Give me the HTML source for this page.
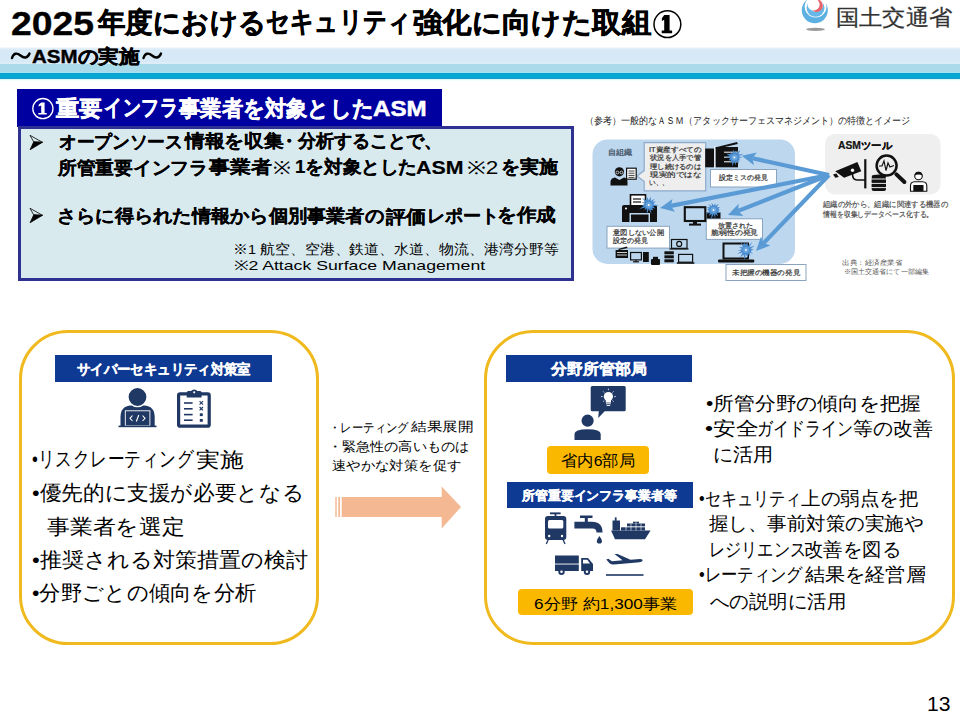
<!DOCTYPE html>
<html><head><meta charset="utf-8">
<style>
*{margin:0;padding:0;box-sizing:border-box}
html,body{width:960px;height:720px;overflow:hidden;background:#fff}
body{position:relative;font-family:"Liberation Sans",sans-serif;color:#000}
.a{position:absolute}
.t{position:absolute;white-space:nowrap;line-height:1;transform-origin:0 0}
.b{font-weight:bold}
svg{position:absolute;left:0;top:0}
</style></head><body>

<!-- bands -->
<div class="a" style="left:0;top:47px;width:960px;height:34px;background:linear-gradient(to bottom,#fff 0px,#e6f1f9 1px,#d7e9f6 3px,#d7e9f6 14px,#dcedf8 15px,#dcedf8 16.5px,#a9dbe9 17px,#abdbea 24.5px,#a0e5f5 25px,#a0e5f5 25.8px,#1b93bb 26px,#06a7d4 27px,#06a7d4 31px,#1b93bb 32px,#dff6fb 32.5px,#fff 34px)"></div>
<!-- top section -->
<div class="a" style="left:17px;top:89px;width:425px;height:38px;background:#0000a0"></div>
<div class="a" style="left:18px;top:126px;width:556px;height:155px;border:3px solid #2e3192;background:#d9eaef"></div>

<!-- bottom boxes -->
<div class="a" style="left:19px;top:330px;width:300px;height:315px;border:3px solid #f0b91e;border-radius:49px"></div>
<div class="a" style="left:55px;top:355px;width:217px;height:27px;background:#0f3a94"></div>
<div class="a" style="left:484px;top:330px;width:471px;height:315px;border:3px solid #f0b91e;border-radius:49px"></div>
<div class="a" style="left:506px;top:355px;width:186px;height:27px;background:#0f3a94"></div>
<div class="a" style="left:547px;top:446px;width:102px;height:28px;background:#fbb800;border-radius:4px"></div>
<div class="a" style="left:507px;top:482px;width:186px;height:26px;background:#0f3a94"></div>
<div class="a" style="left:518px;top:589px;width:175px;height:26px;background:#fbb800;border-radius:4px"></div>

<svg width="960" height="720" viewBox="0 0 960 720">
<!-- logo -->
<ellipse cx="815.5" cy="29.3" rx="9.5" ry="1.6" fill="#9a9a9a"/>
<circle cx="814.8" cy="10.2" r="13" fill="#5cb0e2"/>
<circle cx="815.6" cy="6.6" r="10.9" fill="#fff"/>
<circle cx="815.5" cy="7.8" r="9" fill="#66b8e8"/>
<circle cx="816" cy="4.6" r="7.2" fill="#fff"/>
<circle cx="816.6" cy="5.6" r="6.3" fill="#e8646c"/>
<circle cx="813.6" cy="4.6" r="6" fill="#fff"/>
<path d="M12,58 C13.5,53 17,52.5 20.5,55.5 C24,58.5 27.5,58.5 29.5,53.5" fill="none" stroke="#000" stroke-width="2.4" stroke-linecap="round"/>
<path d="M143.5,58 C145,53 148.5,52.5 152,55.5 C155.5,58.5 159,58.5 161,53.5" fill="none" stroke="#000" stroke-width="2.4" stroke-linecap="round"/>
<!-- circled 1 -->
<circle cx="667.4" cy="24.15" r="13.4" fill="none" stroke="#000" stroke-width="1.5"/>
<path d="M664.2,15 H669.6 V30.4 H672.1 V33.3 H661.7 V30.4 H664.2 V19.8 L661.9,21 V18.2 Z" fill="#000"/>

<circle cx="42.9" cy="108.6" r="10.1" fill="none" stroke="#fff" stroke-width="1.3"/>
<path d="M41.2,102.6 H44.6 V112.9 H46.7 V114.6 H38.3 V112.9 H41.2 V105.6 L38.6,106.6 V104.8 Z" fill="#fff"/>
<!-- bullet arrows -->
<g stroke="#000" stroke-width="0.8" stroke-linejoin="miter">
<path d="M30,135.3 L42.5,142.3 L33.7,141.9 Z" fill="none"/>
<path d="M33.7,141.9 L42.5,142.3 L30.1,149.7 Z" fill="#000"/>
<path d="M30,208.3 L42.5,215.3 L33.7,214.9 Z" fill="none"/>
<path d="M33.7,214.9 L42.5,215.3 L30.1,222.7 Z" fill="#000"/>
</g>

<!-- diagram -->
<rect x="592.5" y="139.4" width="202.5" height="124.5" rx="15" fill="#bdd7ee"/>
<rect x="825" y="134" width="115.5" height="60.5" rx="10" fill="#efefef"/>
<path d="M644.2,142.7 H705.7 V190.8 H644.2 V181.6 L637,176 L644.2,170.6 Z" fill="#eeeeee" stroke="#8eaacb" stroke-width="1.2"/>
<g fill="#fff" stroke="#8aa4c0" stroke-width="1">
<rect x="710.5" y="169.5" width="66" height="17.5"/>
<rect x="607" y="226.3" width="62.5" height="21.8"/>
<rect x="706.3" y="218.8" width="56.2" height="20.6"/>
<rect x="726" y="264.5" width="80" height="16"/>
</g>

<!-- copier -->
<g fill="#111">
<rect x="705.2" y="148.5" width="9" height="18.8"/>
<rect x="715.5" y="147" width="22.5" height="20.3"/>
<path d="M715,147.5 L737,142 L737.8,144 L716,149 Z"/>
</g>
<g stroke="#fff" stroke-width="1">
<line x1="724" y1="152.2" x2="738" y2="152.2"/><line x1="724" y1="157.2" x2="738" y2="157.2"/><line x1="724" y1="161.8" x2="738" y2="161.8"/>
<line x1="714.8" y1="146" x2="714.8" y2="168"/>
</g>
<!-- printer -->
<rect x="630.5" y="194.8" width="15" height="13" fill="#fff" stroke="#111" stroke-width="1.6"/>
<g stroke="#111" stroke-width="1.2"><line x1="633" y1="199" x2="641" y2="199"/><line x1="633" y1="202" x2="641" y2="202"/></g>
<path d="M624,205 H655 A2,2 0 0 1 657,207 V222 H622 V207 A2,2 0 0 1 624,205 Z" fill="#111"/>
<rect x="629.5" y="213" width="20.5" height="9" fill="#bdd7ee"/>
<rect x="631" y="214.5" width="17.5" height="7.5" fill="#111"/>
<circle cx="626" cy="208.5" r="1" fill="#fff"/>
<!-- monitor -->
<rect x="684.8" y="207.2" width="20.5" height="13.8" fill="none" stroke="#111" stroke-width="2.1"/>
<rect x="693" y="221" width="4" height="3" fill="#111"/><rect x="689" y="223.6" width="12" height="2" fill="#111"/>
<!-- laptop -->
<rect x="723.5" y="243.5" width="24.5" height="15" fill="none" stroke="#111" stroke-width="2"/>
<rect x="718" y="259.6" width="36.3" height="2.9" rx="1.2" fill="#111"/>
<!-- small devices -->
<g fill="#111">
<rect x="615.6" y="250" width="12.4" height="8" />
<path d="M618,249 L627,246.5 L627.5,248 L619,250 Z"/>
<rect x="643" y="252" width="5.8" height="10"/>
<rect x="651" y="259" width="9" height="6" rx="1"/>
<rect x="653" y="256.8" width="5" height="3"/>
<rect x="664.4" y="251.3" width="9.4" height="3"/><rect x="664.4" y="255.3" width="9.4" height="3"/><rect x="664.4" y="259.3" width="9.4" height="3"/>
<rect x="669.5" y="248.3" width="19" height="1.3"/>
<rect x="676.9" y="262.3" width="17.5" height="1.5"/>
</g>
<g stroke="#fff" stroke-width="0.8"><line x1="617" y1="252.5" x2="627" y2="252.5"/><line x1="617" y1="255" x2="627" y2="255"/></g>
<g fill="none" stroke="#111" stroke-width="1.2">
<rect x="630.6" y="252.5" width="10.8" height="7.4"/>
<line x1="636" y1="260" x2="636" y2="262"/><line x1="633" y1="261.8" x2="639" y2="261.8"/>
<rect x="671.5" y="239.5" width="15.5" height="8.8"/>
<circle cx="679.2" cy="243.9" r="2.5"/>
<rect x="678.6" y="254.4" width="14" height="7.8"/>
</g>
<!-- person + clipboard -->
<g fill="#111">
<circle cx="619.4" cy="171.8" r="4.6"/>
<path d="M610.5,185.6 V181.5 Q611,178 615,177.5 L619.4,180 L624,177.5 Q627.5,178 627.5,181.5 V185.6 Z"/>
</g>
<g fill="none" stroke="#fff" stroke-width="0.7"><circle cx="617.4" cy="172.5" r="1.4"/><circle cx="621.4" cy="172.5" r="1.4"/></g>
<rect x="626.6" y="168.2" width="9.6" height="11" fill="#fff" stroke="#111" stroke-width="1.2"/>
<g stroke="#111" stroke-width="0.8"><line x1="628.5" y1="171" x2="634.5" y2="171"/><line x1="628.5" y1="173.2" x2="634.5" y2="173.2"/><line x1="628.5" y1="175.4" x2="634.5" y2="175.4"/><line x1="628.5" y1="177.4" x2="634.5" y2="177.4"/></g>
<rect x="706.5" y="212.5" width="14" height="6" fill="#111"/>
<path d="M742.6,157.1 L738.9,158.3 L740.3,160.4 L738.4,160.1 L739.1,162.8 L736.0,161.6 L735.8,165.3 L734.3,161.5 L732.1,166.4 L732.3,161.7 L730.1,162.4 L730.7,160.1 L728.7,160.4 L730.0,158.1 L725.0,157.1 L729.6,156.1 L726.1,153.6 L730.5,154.3 L730.5,151.9 L732.4,153.8 L733.2,149.6 L734.5,153.1 L736.1,149.9 L736.3,153.2 L740.4,150.1 L738.4,154.4 L743.4,153.7 L738.4,156.6 Z" fill="#4a8cd0"/>
<circle cx="734.4" cy="157.4" r="3" fill="#6aa6de"/>
<circle cx="734.4" cy="157.4" r="0.9" fill="#fff"/>
<path d="M659.0,205.6 L653.1,206.3 L655.4,208.5 L652.2,208.0 L653.3,210.3 L650.7,209.7 L651.5,214.2 L648.8,209.1 L646.9,214.3 L646.8,208.5 L644.3,210.3 L645.3,207.6 L639.2,208.9 L643.8,206.1 L641.7,205.2 L644.9,204.1 L641.2,201.8 L645.6,202.4 L642.0,197.8 L646.4,200.6 L647.5,197.0 L648.7,200.5 L650.9,196.4 L650.8,200.9 L654.6,198.7 L652.4,202.0 L655.7,201.3 L653.2,204.3 Z" fill="#4a8cd0"/>
<circle cx="648.75" cy="205" r="3" fill="#6aa6de"/>
<circle cx="648.75" cy="205" r="0.9" fill="#fff"/>
<path d="M719.9,210.0 L718.0,211.0 L721.4,213.1 L716.6,212.5 L718.3,216.3 L715.3,213.9 L715.2,218.7 L713.8,214.0 L711.1,219.3 L711.7,214.1 L708.8,215.8 L710.2,212.7 L706.0,213.8 L709.3,211.1 L707.0,209.7 L708.9,208.9 L707.0,207.1 L710.4,207.2 L708.3,204.1 L711.9,206.3 L711.6,202.7 L713.7,205.6 L715.4,203.3 L715.4,205.8 L718.8,204.1 L716.6,207.3 L719.8,207.0 L718.3,209.1 Z" fill="#4a8cd0"/>
<circle cx="713.5" cy="210" r="3" fill="#6aa6de"/>
<circle cx="713.5" cy="210" r="0.9" fill="#fff"/>
<path d="M753.7,249.6 L750.5,251.3 L753.0,253.8 L749.5,252.4 L750.5,256.3 L748.0,253.9 L747.9,258.0 L745.7,254.1 L744.5,260.0 L743.5,254.4 L739.7,258.0 L742.6,252.4 L737.0,253.9 L741.6,250.9 L738.0,250.3 L742.1,249.3 L739.0,246.5 L743.0,247.4 L740.7,242.4 L744.2,245.4 L744.6,241.3 L745.6,245.2 L747.3,242.3 L748.1,246.0 L752.2,242.0 L749.4,247.4 L754.7,245.4 L750.7,248.9 Z" fill="#4a8cd0"/>
<circle cx="746" cy="250" r="3" fill="#6aa6de"/>
<circle cx="746" cy="250" r="0.9" fill="#fff"/>
<line x1="829" y1="175" x2="752.4" y2="158.2" stroke="#5b9bd5" stroke-width="4.2"/><path d="M741.7,155.8 L756.8,152.5 L752.4,158.2 L754.0,165.2 Z" fill="#5b9bd5"/>
<line x1="829" y1="175" x2="670.8" y2="205.9" stroke="#5b9bd5" stroke-width="4.2"/><path d="M660,208 L672.5,198.9 L670.8,205.9 L675.0,211.7 Z" fill="#5b9bd5"/>
<line x1="829" y1="175" x2="738.2" y2="210.9" stroke="#5b9bd5" stroke-width="4.2"/><path d="M728,215 L738.6,203.8 L738.2,210.9 L743.4,215.9 Z" fill="#5b9bd5"/>
<line x1="829" y1="175" x2="763.6" y2="243.1" stroke="#5b9bd5" stroke-width="4.2"/><path d="M756,251 L761.0,236.4 L763.6,243.1 L770.4,245.4 Z" fill="#5b9bd5"/>
<!-- ASM tool icons -->
<path d="M835.2,171.2 L857.4,162 L861.3,171.2 L844.1,177.8 Z" fill="#111"/>
<circle cx="852.5" cy="170.3" r="1.7" fill="#fff"/>
<path d="M833,174.6 L836.4,173.4 L838.8,177 L835.3,177.8 Z" fill="#111"/>
<path d="M852.5,174 Q852.5,180 857,180 H865" fill="none" stroke="#111" stroke-width="1.6"/>
<rect x="864.2" y="159.2" width="2.2" height="29.2" fill="#111"/>
<circle cx="886.6" cy="165.6" r="10" fill="none" stroke="#111" stroke-width="2.5"/>
<line x1="896.4" y1="174.4" x2="904.4" y2="182" stroke="#111" stroke-width="4" stroke-linecap="round"/>
<polyline points="879,166 882,166 884,161 886,170.5 888,163 890,167 894,165.5" fill="none" stroke="#111" stroke-width="1.2"/>
<g fill="#111"><ellipse cx="878.8" cy="176.3" rx="7.2" ry="1.8"/><rect x="871.6" y="176.3" width="14.4" height="14.7" rx="2"/></g>
<g stroke="#fff" stroke-width="0.9"><line x1="871" y1="179" x2="887" y2="179"/><line x1="871" y1="183.4" x2="887" y2="183.4"/><line x1="871" y1="187.6" x2="887" y2="187.6"/></g>
<path d="M910.5,191.3 V186 Q910.5,182 914.5,181.8 H922.5 Q926.8,182 926.8,186 V191.3 Z" fill="#fff" stroke="#111" stroke-width="1.1"/>
<circle cx="918.5" cy="176" r="3.8" fill="#fff" stroke="#111" stroke-width="1.1"/>
<path d="M914.7,175.5 A3.8,3.8 0 0 1 922.3,175.5 Q918.5,173.5 914.7,175.5 Z" fill="#111"/>
<rect x="913.3" y="185" width="10.2" height="6.3" fill="#111"/>


<!-- bottom-left icons -->
<g fill="#203864">

<path d="M120.5,426.7 V417 Q120.5,406 131,405.5 H144 Q154.7,406 154.7,417 V426.7 Z"/>
</g>
<circle cx="137.5" cy="397" r="9.6" fill="#203864" stroke="#fff" stroke-width="1.4"/>
<rect x="125.3" y="410.8" width="24.6" height="15" fill="#203864" stroke="#fff" stroke-width="0.9"/>
<rect x="118.5" y="425.6" width="38" height="1.6" fill="#203864"/>
<g fill="none" stroke="#fff" stroke-width="1.1"><polyline points="132.5,415.5 130,418.3 132.5,421"/><polyline points="142.5,415.5 145,418.3 142.5,421"/><line x1="138.8" y1="415" x2="136.3" y2="421.5"/></g>
<rect x="178.6" y="393.8" width="30.6" height="32.4" rx="1.5" fill="none" stroke="#203864" stroke-width="3.2"/>
<path d="M186.7,397.5 V392.5 Q186.7,391 188.5,391 H191 Q192,389.5 194.2,389.5 Q196.4,389.5 197.4,391 H200 Q201.6,391 201.6,392.5 V397.5 Z" fill="#203864"/>
<circle cx="194.2" cy="392.3" r="1.1" fill="#fff"/>
<g stroke="#203864" stroke-width="1.6"><line x1="184" y1="403" x2="192.6" y2="403"/><line x1="184" y1="408.8" x2="192.6" y2="408.8"/><line x1="184" y1="414.6" x2="192.6" y2="414.6"/><line x1="184" y1="420.2" x2="192.6" y2="420.2"/></g>
<g stroke="#203864" stroke-width="1.1"><path d="M199.6,401.2 L203,404.6 M203,401.2 L199.6,404.6 M199.6,407 L203,410.4 M203,407 L199.6,410.4"/></g>
<rect x="199.8" y="413.3" width="3" height="2.8" fill="#203864"/><rect x="199.8" y="419" width="3" height="2.8" fill="#203864"/>

<!-- idea person -->
<path d="M592.2,386.1 H624.2 Q625.7,386.1 625.7,387.6 V409.7 Q625.7,411.2 624.2,411.2 H604.7 L598.2,417.9 L598.8,411.2 H592.2 Q590.7,411.2 590.7,409.7 V387.6 Q590.7,386.1 592.2,386.1 Z" fill="#203864"/>
<circle cx="608.4" cy="396.6" r="4.6" fill="#fff"/>
<rect x="605.8" y="400" width="5.2" height="2.6" fill="#fff"/>
<rect x="606" y="403.3" width="4.8" height="0.9" fill="#fff"/><rect x="606.6" y="405" width="3.6" height="0.9" fill="#fff"/>
<g stroke="#fff" stroke-width="0.8"><line x1="608.4" y1="388.6" x2="608.4" y2="390.2"/><line x1="601" y1="396.6" x2="602.6" y2="396.6"/><line x1="614.2" y1="396.6" x2="615.8" y2="396.6"/><line x1="603.2" y1="391.4" x2="604.3" y2="392.5"/><line x1="613.6" y1="391.4" x2="612.5" y2="392.5"/><line x1="603.2" y1="401.6" x2="604.3" y2="400.5"/><line x1="613.6" y1="401.6" x2="612.5" y2="400.5"/></g>
<circle cx="587.6" cy="420.7" r="6.1" fill="#203864"/>
<path d="M574.5,440.1 V434 Q574.5,429.2 587.6,429.2 Q600.7,429.2 600.7,434 V440.1 Z" fill="#203864"/>

<!-- train -->
<g fill="#203864">
<rect x="550" y="512.4" width="10.6" height="1.9"/>
<rect x="554.6" y="514" width="1.8" height="3"/>
<path d="M548,516.1 H563.3 Q566.3,516.1 566.3,519.1 V537 Q566.3,539.9 563.3,539.9 H548 Q545,539.9 545,537 V519.1 Q545,516.1 548,516.1 Z"/>
</g>
<rect x="548" y="519.9" width="15.3" height="8.7" rx="1.5" fill="#fff"/>
<circle cx="549.2" cy="536" r="1.2" fill="#fff"/><circle cx="562" cy="536" r="1.2" fill="#fff"/>
<g stroke="#203864" stroke-width="1.3"><line x1="548.3" y1="539.5" x2="546.3" y2="544"/><line x1="563" y1="539.5" x2="565" y2="544"/></g>
<!-- faucet -->
<g fill="#203864">
<rect x="580" y="515.5" width="12.5" height="2.5"/>
<rect x="584.8" y="517.5" width="3" height="4.5"/>
<path d="M574.4,521.8 H592 Q602.5,521.8 602.5,532.4 H596.5 Q596.5,528.6 592.5,528.6 H574.4 Z"/>
<path d="M599.4,536 Q602,539.5 602,541 A2.6,2.6 0 0 1 596.8,541 Q596.8,539.5 599.4,536 Z"/>
</g>
<!-- ship -->
<g fill="#203864">
<path d="M611,530.5 H650.6 L645,539.3 H615 Z"/>
<rect x="612.5" y="520.5" width="7.5" height="10"/>
<rect x="614.8" y="517.4" width="1.8" height="3.5"/>
<rect x="621" y="527" width="24" height="3.5"/>
<rect x="627" y="523.5" width="18" height="3"/>
<rect x="633" y="521.7" width="6" height="1.8"/>
</g>
<g stroke="#fff" stroke-width="0.6"><line x1="626" y1="527" x2="626" y2="530.5"/><line x1="631" y1="523.5" x2="631" y2="530.5"/><line x1="636" y1="521.7" x2="636" y2="530.5"/><line x1="641" y1="523.5" x2="641" y2="530.5"/><line x1="621" y1="527" x2="645" y2="527"/></g>
<!-- truck -->
<g fill="#203864">
<rect x="555" y="555.5" width="23.8" height="8.1"/>
<rect x="555" y="564.5" width="23.8" height="6.5"/>
<path d="M581.2,558 H588 L593,564 V571 H581.2 Z"/>
<circle cx="561.5" cy="571.8" r="3.2"/><circle cx="587" cy="571.8" r="3.2"/>
</g>
<path d="M583,559.8 H587.3 L590,563.5 H583 Z" fill="#fff"/>
<circle cx="561.5" cy="571.8" r="1.3" fill="#fff"/><circle cx="587" cy="571.8" r="1.3" fill="#fff"/>
<!-- plane -->
<path d="M606.3,559.4 L608.3,558.8 L612,561.3 L622.5,560.3 L614.5,554 L617.5,554.1 L630.5,559.7 L640,559 Q643.2,559.3 642.5,560.8 Q641.5,562.2 637,562.6 L614,564.5 Q611,564.6 609.5,563.2 Z" fill="#203864"/>
<rect x="606" y="574.2" width="37.5" height="1.6" fill="#203864"/>

<!-- peach arrow -->
<g fill="#f4b892">
<rect x="335.3" y="497" width="1.4" height="20"/>
<rect x="338.3" y="497" width="1.7" height="20"/>
<path d="M341.7,497 H441.7 V486.5 L461,507 L441.7,528.5 V517 H341.7 Z"/>
</g>

</svg>

<div class="t b" id="title0" style="left:11.0px;top:5.75px;font-size:34px;transform:scaleX(1.0987);-webkit-text-stroke:0.3px #000">2025</div>
<div class="t b" id="title" style="left:98.0px;top:9.3px;font-size:28px;transform:scaleX(0.9808);-webkit-text-stroke:0.6px #000">年度における</div>
<div class="t b" id="titleB" style="left:266.0px;top:8.45px;font-size:28px;transform:scaleX(0.8345);-webkit-text-stroke:0.6px #000">セキュリティ</div>
<div class="t b" id="titleC" style="left:412.5px;top:8.9px;font-size:28px;transform:scaleX(1.0484);-webkit-text-stroke:0.6px #000">強化に向けた取組</div>
<div class="t b" id="sub" style="left:31.6px;top:46.7px;font-size:19px;transform:scaleX(1.079);-webkit-text-stroke:0.4px #000">ASMの実施</div>
<div class="t" id="logo" style="left:836.0px;top:7.15px;font-size:22px;color:#333;transform:scaleX(1.0556);-webkit-text-stroke:0.25px #333">国土交通省</div>
<div class="t b" id="h1" style="left:55.8px;top:97.75px;font-size:22px;color:#fff;transform:scaleX(1.0539);-webkit-text-stroke:0.5px #fff">重要</div>
<div class="t b" id="h1b" style="left:104.0px;top:97.0px;font-size:22px;color:#fff;transform:scaleX(0.812);-webkit-text-stroke:0.5px #fff">インフラ</div>
<div class="t b" id="h1c" style="left:179.0px;top:98.0px;font-size:22px;color:#fff;transform:scaleX(0.966);-webkit-text-stroke:0.5px #fff">事業者を対象とした</div>
<div class="t b" id="h1d" style="left:373.4px;top:97.71px;font-size:22px;color:#fff;transform:scaleX(1.0966);-webkit-text-stroke:0.5px #fff">ASM</div>
<div class="t b" id="p1" style="left:58.5px;top:133.2px;font-size:18px;transform:scaleX(0.9825);-webkit-text-stroke:0.2px #000">オープンソース</div>
<div class="t b" id="p1b" style="left:184.5px;top:132.2px;font-size:18px;transform:scaleX(1.0945);-webkit-text-stroke:0.2px #000">情報を収集</div>
<div class="t b" id="p1c" style="left:279.5px;top:132.2px;font-size:18px;transform:scaleX(1.0028);-webkit-text-stroke:0.2px #000">・分析することで、</div>
<div class="t b" id="p2" style="left:58.0px;top:159.4px;font-size:18px;transform:scaleX(1.0408);-webkit-text-stroke:0.2px #000">所管重要インフラ</div>
<div class="t b" id="p2b" style="left:208.5px;top:158.4px;font-size:18px;transform:scaleX(1.1594);-webkit-text-stroke:0.2px #000">事業者</div>
<div class="t" id="p2c" style="left:273.0px;top:159.4px;font-size:18px;transform:scaleX(1.1876)">※</div>
<div class="t b" id="p2d" style="left:294.5px;top:158.4px;font-size:18px;transform:scaleX(1.0328);-webkit-text-stroke:0.2px #000">1を対象とした</div>
<div class="t b" id="p2e" style="left:416.0px;top:159.4px;font-size:18px;transform:scaleX(1.1848);-webkit-text-stroke:0.2px #000">ASM</div>
<div class="t" id="p2f" style="left:467.0px;top:159.4px;font-size:18px;transform:scaleX(1.2529)">※2</div>
<div class="t b" id="p2g" style="left:500.5px;top:158.4px;font-size:18px;transform:scaleX(1.0498);-webkit-text-stroke:0.2px #000">を実施</div>
<div class="t b" id="p3" style="left:56.5px;top:207.2px;font-size:18px;transform:scaleX(1.0684);-webkit-text-stroke:0.2px #000">さらに得られた情報から個別事業者の</div>
<div class="t b" id="p3b" style="left:386.25px;top:207.7px;font-size:18px;transform:scaleX(1.1204);-webkit-text-stroke:0.2px #000">評価</div>
<div class="t b" id="p3c" style="left:427.0px;top:207.2px;font-size:18px;-webkit-text-stroke:0.2px #000">レポート</div>
<div class="t b" id="p3d" style="left:497.0px;top:206.2px;font-size:18px;transform:scaleX(1.0868);-webkit-text-stroke:0.2px #000">を作成</div>
<div class="t" id="n1" style="left:233.0px;top:243.0px;font-size:13.5px;transform:scaleX(1.0662)">※1 航空、空港、鉄道、水道、物流、港湾分野等</div>
<div class="t" id="n2" style="left:234.0px;top:259.0px;font-size:13.5px;transform:scaleX(1.3089)">※2 Attack Surface Management</div>
<div class="t b" id="l0" style="left:76.5px;top:362.1px;font-size:14px;color:#fff;transform:scaleX(0.9552);-webkit-text-stroke:0.3px #fff">サイバーセキュリティ対策室</div>
<div class="t" id="l1" style="left:31.5px;top:448.3px;font-size:21px;transform:scaleX(0.794)">•リスクレーティング</div>
<div class="t" id="l1b" style="left:195.5px;top:449.3px;font-size:21px;transform:scaleX(1.1301)">実施</div>
<div class="t" id="l2" style="left:31.5px;top:481.7px;font-size:21px;transform:scaleX(1.0308)">•優先的に支援が必要となる</div>
<div class="t" id="l3" style="left:46.9px;top:516.3px;font-size:21px;transform:scaleX(1.0855)">事業者を選定</div>
<div class="t" id="l4" style="left:31.5px;top:548.75px;font-size:21px;transform:scaleX(1.0496)">•推奨される対策措置の検討</div>
<div class="t" id="l5" style="left:31.5px;top:581.5px;font-size:21px;transform:scaleX(1.0135)">•分野ごとの傾向を分析</div>
<div class="t" id="m1" style="left:329.0px;top:422.0px;font-size:12.5px;transform:scaleX(0.8753)">・レーティング</div>
<div class="t" id="m1b" style="left:411.25px;top:421.4px;font-size:12.5px;transform:scaleX(1.2003)">結果展開</div>
<div class="t" id="m2" style="left:328.0px;top:441.2px;font-size:12.5px;transform:scaleX(1.0845)">・緊急性の高いものは</div>
<div class="t" id="m3" style="left:331.5px;top:459.5px;font-size:12.5px;transform:scaleX(1.1045)">速やかな対策を促す</div>
<div class="t b" id="r0" style="left:551.0px;top:360.5px;font-size:15px;color:#fff;transform:scaleX(1.061);-webkit-text-stroke:0.3px #fff">分野所管部局</div>
<div class="t" id="r1" style="left:560.5px;top:452.7px;font-size:15.5px;transform:scaleX(1.0203)">省内6部局</div>
<div class="t b" id="r2" style="left:521.7px;top:490.4px;font-size:12.5px;color:#fff;transform:scaleX(0.9923);-webkit-text-stroke:0.3px #fff">所管重要インフラ事業者等</div>
<div class="t" id="r3" style="left:534.2px;top:595.7px;font-size:15px;transform:scaleX(1.145)">6分野 約1,300事業</div>
<div class="t" id="q1" style="left:706.1px;top:393.8px;font-size:19px;transform:scaleX(1.0942)">•所管分野の傾向を把握</div>
<div class="t" id="q2" style="left:704.5px;top:419.4px;font-size:19px;transform:scaleX(1.2002)">•安全</div>
<div class="t" id="q2b" style="left:757.0px;top:419.4px;font-size:19px;transform:scaleX(0.8401)">ガイドライン</div>
<div class="t" id="q2c" style="left:852.5px;top:419.4px;font-size:19px;transform:scaleX(1.0459)">等の改善</div>
<div class="t" id="q3" style="left:713.4px;top:445.4px;font-size:19px;transform:scaleX(1.0574)">に活用</div>
<div class="t" id="q4" style="left:699.0px;top:488.6px;font-size:19px;transform:scaleX(0.8484)">•セキュリティ</div>
<div class="t" id="q4b" style="left:800.5px;top:488.8px;font-size:19px;transform:scaleX(1.0266)">上の弱点を把</div>
<div class="t" id="q5" style="left:709.1px;top:514.0px;font-size:19px;transform:scaleX(1.026)">握し、事前対策の実施や</div>
<div class="t" id="q6" style="left:709.0px;top:539.92px;font-size:19px;transform:scaleX(0.8496)">レジリエンス</div>
<div class="t" id="q6b" style="left:804.0px;top:539.8px;font-size:19px;transform:scaleX(1.0219)">改善を図る</div>
<div class="t" id="q7" style="left:699.0px;top:565.3px;font-size:19px;transform:scaleX(0.8584)">•レーティング</div>
<div class="t" id="q7b" style="left:804.5px;top:565.0px;font-size:19px;transform:scaleX(1.0584)">結果を経営層</div>
<div class="t" id="q8" style="left:709.5px;top:591.9px;font-size:19px;transform:scaleX(1.0248)">への説明に活用</div>
<div class="t" id="pg" style="left:927.0px;top:693.5px;font-size:20px;transform:scaleX(1.0551)">13</div>
<div class="t" id="cap" style="left:585.4px;top:116.2px;font-size:9.5px;color:#222;transform:scaleX(0.9038)">（参考）一般的なＡＳＭ（アタックサーフェスマネジメント）の特徴とイメージ</div>
<div class="t" id="jiso" style="left:607.75px;top:148.75px;font-size:7.5px;color:#44546a;transform:scaleX(1.0095);-webkit-text-stroke:0.25px #44546a">自組織</div>
<div class="t" id="bb1" style="left:648.5px;top:146.3px;font-size:7px;color:#333;transform:scaleX(1.0846);-webkit-text-stroke:0.2px #333">IT資産すべての</div>
<div class="t" id="bb2" style="left:649.5px;top:153.9px;font-size:7px;color:#333;transform:scaleX(1.0412);-webkit-text-stroke:0.2px #333">状況を人手で管</div>
<div class="t" id="bb3" style="left:649.5px;top:163.1px;font-size:7px;color:#333;transform:scaleX(1.0421);-webkit-text-stroke:0.2px #333">理し続けるのは</div>
<div class="t" id="bb4" style="left:649.5px;top:171.3px;font-size:7px;color:#333;transform:scaleX(1.2199);-webkit-text-stroke:0.2px #333">現実的ではな</div>
<div class="t" id="bb5" style="left:648.5px;top:178.9px;font-size:7px;color:#333;transform:scaleX(0.9512);-webkit-text-stroke:0.2px #333">い、、</div>
<div class="t" id="set" style="left:719.0px;top:174.2px;font-size:7px;color:#333;transform:scaleX(0.992);-webkit-text-stroke:0.2px #333">設定ミスの発見</div>
<div class="t" id="ito1" style="left:613.0px;top:229.4px;font-size:7px;color:#333;transform:scaleX(1.0408);-webkit-text-stroke:0.2px #333">意図しない公開</div>
<div class="t" id="ito2" style="left:613.0px;top:237.0px;font-size:7px;color:#333;transform:scaleX(1.0033);-webkit-text-stroke:0.2px #333">設定の発見</div>
<div class="t" id="hou1" style="left:718.0px;top:221.5px;font-size:7px;color:#333;-webkit-text-stroke:0.2px #333">放置された</div>
<div class="t" id="hou2" style="left:711.0px;top:228.75px;font-size:7px;color:#333;transform:scaleX(1.125);-webkit-text-stroke:0.2px #333">脆弱性の発見</div>
<div class="t" id="mi" style="left:732.0px;top:269.4px;font-size:7px;color:#333;transform:scaleX(1.0822);-webkit-text-stroke:0.2px #333">未把握の機器の発見</div>
<div class="t b" id="asm" style="left:838.0px;top:140.5px;font-size:10px;color:#111;transform:scaleX(1.0311);-webkit-text-stroke:0.2px #111">ASMツール</div>
<div class="t" id="ex1" style="left:822.5px;top:201.0px;font-size:7.5px;color:#444;transform:scaleX(0.9191);-webkit-text-stroke:0.15px #444">組織の外から、組織に関連する機器の</div>
<div class="t" id="ex2" style="left:822.5px;top:211.1px;font-size:7.5px;color:#444;transform:scaleX(0.8619);-webkit-text-stroke:0.15px #444">情報を収集しデータベース化する。</div>
<div class="t" id="src1" style="left:841.6px;top:260.0px;font-size:6.5px;color:#555;transform:scaleX(1.0737)">出典：経済産業省</div>
<div class="t" id="src2" style="left:843.6px;top:268.75px;font-size:6.5px;color:#555;transform:scaleX(1.0097)">※国土交通省にて一部編集</div>
</body></html>
